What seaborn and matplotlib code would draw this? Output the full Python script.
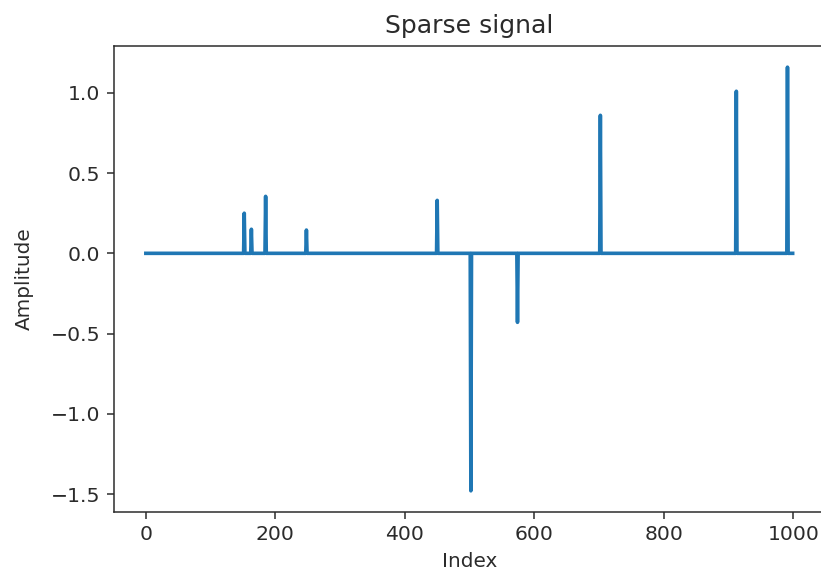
import numpy as np
import pandas as pd
import matplotlib
matplotlib.use("Agg")
import matplotlib.pyplot as plt
import seaborn as sns

n_samples = 1000
spike_indices = [152, 163, 185, 248, 450, 502, 574, 702, 912, 991]
spike_values = [0.25, 0.15, 0.355, 0.145, 0.33, -1.48, -0.43, 0.86, 1.01, 1.16]

signal = np.zeros(n_samples)
signal[spike_indices] = spike_values
df = pd.DataFrame({"Index": np.arange(n_samples), "Amplitude": signal})

txt = "#2b2b2b"
plt.rcParams.update({
    "text.color": txt, "axes.labelcolor": txt,
    "xtick.color": txt, "ytick.color": txt, "axes.edgecolor": txt,
})

dpi = 137
fig = plt.figure(figsize=(821 / dpi, 577 / dpi), dpi=dpi)
ax = fig.add_axes([113.5 / 821, 1 - 512 / 577, (825 - 113.5) / 821, (512 - 46) / 577])
sns.lineplot(data=df, x="Index", y="Amplitude", ax=ax, color="#1f77b4", linewidth=1.9)
ax.set_title("Sparse signal", fontsize=13.2, pad=7)
ax.set_xlabel("Index", fontsize=10.5)
ax.set_ylabel("Amplitude", fontsize=10.5, labelpad=9)
ax.set_xticks([0, 200, 400, 600, 800, 1000])
ax.set_yticks([-1.5, -1.0, -0.5, 0.0, 0.5, 1.0])
ax.tick_params(labelsize=10.7)
fig.savefig("out.png", dpi=dpi)
